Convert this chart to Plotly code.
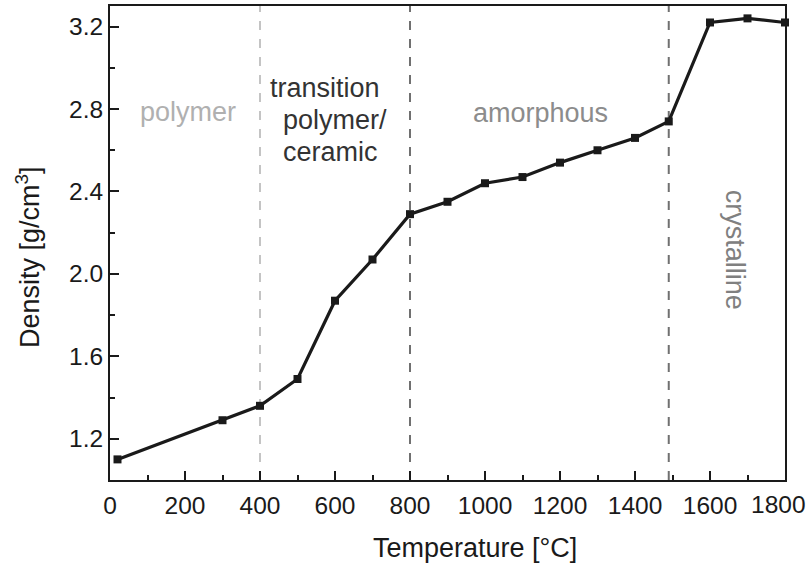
import plotly.graph_objects as go

temperature = [20, 300, 400, 500, 600, 700, 800, 900, 1000, 1100, 1200, 1300, 1400, 1490, 1600, 1700, 1800]
density = [1.10, 1.29, 1.36, 1.49, 1.87, 2.07, 2.29, 2.35, 2.44, 2.47, 2.54, 2.60, 2.66, 2.74, 3.22, 3.24, 3.22]

boundaries = [400, 800, 1490]
boundary_colors = ["#c4c4c4", "#707070", "#707070"]

x_ticks = [0, 200, 400, 600, 800, 1000, 1200, 1400, 1600]
x_ticktext = ["0", "200", "400", "600", "800", "1000", "1200", "1400", "1600"]
last_x_tick = 1800
last_x_label = "1800"
y_ticks = [1.2, 1.6, 2.0, 2.4, 2.8, 3.2]
y_ticktext = ["1.2", "1.6", "2.0", "2.4", "2.8", "3.2"]

FONT = "Liberation Sans"
TICK_SIZE = 24.5
TITLE_SIZE = 27
NOTE_SIZE = 27

fig = go.Figure()
fig.add_trace(go.Scatter(
    x=temperature, y=density, mode="lines+markers",
    line=dict(color="#1a1a1a", width=3.2),
    marker=dict(symbol="square", size=8, color="#1a1a1a"),
    showlegend=False, cliponaxis=False,
))

shapes = []
for b, c in zip(boundaries, boundary_colors):
    shapes.append(dict(type="line", xref="x", yref="paper", x0=b, x1=b, y0=0, y1=1,
                       line=dict(color=c, width=2, dash="dash"), layer="below"))

annotations = [
    dict(x=208, y=2.785, text="polymer", color="#b0b0b0", xanchor="center"),
    dict(x=421, y=2.90, text="transition", color="#333333", xanchor="left"),
    dict(x=456, y=2.746, text="polymer/", color="#333333", xanchor="left"),
    dict(x=456, y=2.591, text="ceramic", color="#333333", xanchor="left"),
    dict(x=1148, y=2.78, text="amorphous", color="#8c8c8c", xanchor="center"),
    dict(x=1669, y=2.118, text="crystalline", color="#808080", xanchor="center", textangle=90),
]
ann = []
for a in annotations:
    color = a.pop("color")
    a.update(xref="x", yref="y", yanchor="middle", showarrow=False,
             font=dict(family=FONT, size=NOTE_SIZE, color=color))
    ann.append(a)

# last x tick label, nudged left so it stays inside the page (as in the reference)
ann.append(dict(xref="x", yref="paper", x=last_x_tick, y=-0.052, xanchor="center", yanchor="middle",
                xshift=-7, text=last_x_label, showarrow=False,
                font=dict(family=FONT, size=TICK_SIZE, color="#1a1a1a")))

# axis titles placed as annotations for precise positioning
ann.append(dict(xref="paper", yref="paper", x=0.5406, y=-0.1435, xanchor="center", yanchor="middle",
                text="Temperature [°C]", showarrow=False,
                font=dict(family=FONT, size=TITLE_SIZE, color="#1a1a1a")))
ann.append(dict(xref="paper", yref="paper", x=-0.1218, y=0.47, xanchor="center", yanchor="middle",
                text="Density [g/cm<sup>3</sup>]", textangle=-90, showarrow=False,
                font=dict(family=FONT, size=TITLE_SIZE, color="#1a1a1a")))

fig.update_layout(
    width=807, height=565,
    margin=dict(l=110, r=22, t=6, b=85),
    paper_bgcolor="white", plot_bgcolor="white",
    font=dict(family=FONT, size=TICK_SIZE, color="#1a1a1a"),
    shapes=shapes, annotations=ann,
    xaxis=dict(
        range=[0, 1800], tickvals=x_ticks, ticktext=x_ticktext, ticks="inside", ticklen=9, tickwidth=2,
        tickcolor="#1a1a1a", showline=True, linecolor="#1a1a1a", linewidth=2, mirror=True,
        showgrid=False, zeroline=False, automargin=False, ticklabelstandoff=3,
        minor=dict(tickvals=[100, 300, 500, 700, 900, 1100, 1300, 1500, 1700], ticks="inside",
                   ticklen=5, tickwidth=2, tickcolor="#1a1a1a"),
        tickfont=dict(family=FONT, size=TICK_SIZE, color="#1a1a1a"),
    ),
    yaxis=dict(
        range=[1.0, 3.3], tickvals=y_ticks, ticktext=y_ticktext,
        ticks="inside", ticklen=9, tickwidth=2, automargin=False,
        tickcolor="#1a1a1a", showline=True, linecolor="#1a1a1a", linewidth=2, mirror=True,
        showgrid=False, zeroline=False,
        minor=dict(tickvals=[1.4, 1.8, 2.2, 2.6, 3.0], ticks="inside",
                   ticklen=5, tickwidth=2, tickcolor="#1a1a1a"),
        tickfont=dict(family=FONT, size=TICK_SIZE, color="#1a1a1a"),
    ),
)

fig.write_html("out.html")
